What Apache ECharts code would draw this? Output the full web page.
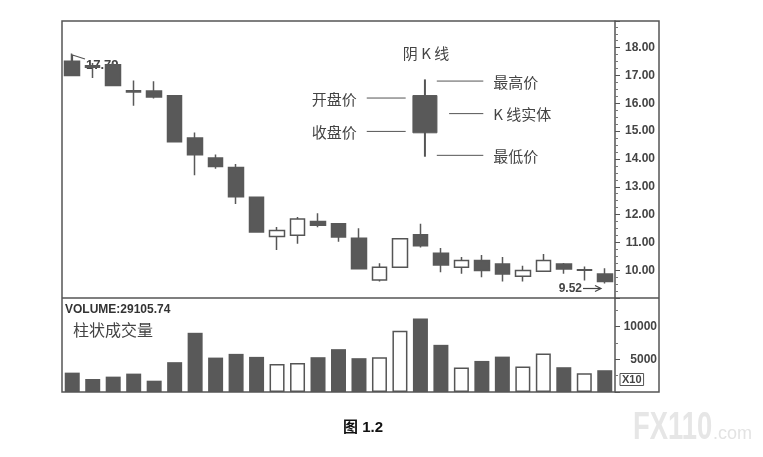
<!DOCTYPE html>
<html><head><meta charset="utf-8">
<script src="https://cdn.jsdelivr.net/npm/echarts@6/dist/echarts.min.js"></script>
<style>html,body{margin:0;padding:0;background:#fff}#c{width:763px;height:457px}</style>
</head><body><div id="c"></div>
<script>
// ---- data ----
const categories = ['1','2','3','4','5','6','7','8','9','10','11','12','13','14','15','16','17','18','19','20','21','22','23','24','25','26','27'];
const opens  = [17.51,17.35,17.39,16.45,16.44,16.27,14.75,14.03,13.69,12.62,11.21,11.26,11.75,11.67,11.15, 9.65,10.11,11.27,10.61,10.11,10.35,10.22, 9.78, 9.96,10.22,10.00, 9.86];
const closes = [17.00,17.30,16.64,16.41,16.23,14.62,14.15,13.73,12.64,11.37,11.43,11.84,11.62,11.19,10.05,10.11,11.13,10.88,10.19,10.35, 9.99, 9.86, 9.99,10.35,10.04,10.02, 9.59];
const lows   = [16.98,16.91,16.62,15.91,16.17,14.59,13.41,13.65,12.38,11.35,10.73,10.95,11.54,11.02,10.03, 9.59,10.09,10.82, 9.93, 9.87, 9.75, 9.59, 9.59, 9.94, 9.87, 9.63, 9.52];
const highs  = [17.79,17.45,17.45,16.82,16.79,16.30,14.95,14.16,13.82,12.64,11.55,11.91,12.05,11.69,11.51,10.25,11.15,11.67,10.80,10.47,10.55,10.47,10.16,10.58,10.26,10.13,10.07];
const volumes = [2960,1990,2350,2810,1730,4560,9050,5260,5830,5370,4290,4450,5320,6550,5170,5320,9360,11240,7210,3730,4750,5410,3880,5870,3790,2870,3330];
const priceTicks = [10,11,12,13,14,15,16,17,18];
const volumeTicks = [5000,10000];
// illustrative candle (阴 K 线): [x position, open, close, low, high]
const illusCandle = [17.72, 16.28, 14.94, 14.08, 16.86];
// annotation leader lines
const annoTexts  = ['开盘价','收盘价','最高价','K 线实体','最低价'];
const annoLevels = [16.19, 14.99, 16.80, 15.63, 14.13];
const annoX1     = [14.88, 14.88, 18.30, 18.90, 18.30];
const annoX2     = [16.78, 16.78, 20.57, 20.57, 20.57];
const annoSide   = ['left','left','right','right','right'];

// ---- chart ----
const DARK = '#595959', LINE = '#555';
const CJK = '"Noto Sans CJK SC", sans-serif';
const LAT = '"Liberation Sans", Arial, sans-serif';
const chart = echarts.init(document.getElementById('c'));

const hiddenCat = (gi) => ({type:'category', data:categories, gridIndex:gi, boundaryGap:true,
  axisLine:{show:false, onZero:false}, axisTick:{show:false}, axisLabel:{show:false}, splitLine:{show:false}});

const option = {
  animation:false,
  backgroundColor:'#fff',
  grid:[
    {left:62, right:148, top:21, height:277},
    {left:62, right:148, top:298, height:94}
  ],
  xAxis:[
    hiddenCat(0),
    {type:'value', gridIndex:0, min:0, max:27, show:false, axisLine:{onZero:false}},
    hiddenCat(1)
  ],
  yAxis:[
    {type:'value', gridIndex:0, position:'right', min:9, max:18.96, interval:1,
     axisLine:{show:true, onZero:false, lineStyle:{color:LINE, width:1.5}},
     axisTick:{show:true, inside:false, length:5, lineStyle:{color:LINE}},
     minorTick:{show:true, splitNumber:4, length:3, lineStyle:{color:'#777'}},
     splitLine:{show:false}, minorSplitLine:{show:false},
     axisLabel:{formatter:(v)=> priceTicks.indexOf(Math.round(v*100)/100) >= 0 ? Number(v).toFixed(2) : '',
       align:'right', margin:40, fontFamily:LAT, fontWeight:'bold', fontSize:12, color:'#444'}},
    {type:'value', gridIndex:1, position:'right', min:0, max:14370, interval:5000,
     axisLine:{show:true, onZero:false, lineStyle:{color:LINE, width:1.5}},
     axisTick:{show:true, inside:false, length:5, lineStyle:{color:LINE}},
     minorTick:{show:true, splitNumber:2, length:3, lineStyle:{color:'#777'}},
     splitLine:{show:false}, minorSplitLine:{show:false},
     axisLabel:{formatter:(v)=> volumeTicks.indexOf(v) >= 0 ? String(v) : '',
       align:'right', margin:42, fontFamily:LAT, fontWeight:'bold', fontSize:12, color:'#444'}}
  ],
  series:[
    {type:'candlestick', xAxisIndex:0, yAxisIndex:0, barWidth:15,
     data: categories.map((_, i) => [opens[i], closes[i], lows[i], highs[i]]),
     itemStyle:{color:'#fff', color0:DARK, borderColor:LINE, borderColor0:DARK, borderWidth:1.5}},
    {type:'bar', xAxisIndex:2, yAxisIndex:1, barWidth:15,
     data: volumes.map((v, i) => ({value:v, itemStyle: closes[i] >= opens[i]
        ? {color:'#fff', borderColor:LINE, borderWidth:1.5}
        : {color:DARK}}))},
    {type:'custom', xAxisIndex:1, yAxisIndex:0, silent:true,
     data:[illusCandle],
     renderItem:(params, api) => {
       const x = api.value(0);
       const o = api.coord([x, api.value(1)]);
       const c = api.coord([x, api.value(2)]);
       const l = api.coord([x, api.value(3)]);
       const h = api.coord([x, api.value(4)]);
       const w = 24;
       const children = [
         {type:'line', shape:{x1:h[0], y1:h[1], x2:l[0], y2:l[1]}, style:{stroke:LINE, lineWidth:2}},
         {type:'rect', shape:{x:o[0]-w/2, y:o[1], width:w, height:c[1]-o[1]}, style:{fill:DARK, stroke:DARK, lineWidth:1}}
       ];
       annoTexts.forEach((t, k) => {
         const p1 = api.coord([annoX1[k], annoLevels[k]]);
         const p2 = api.coord([annoX2[k], annoLevels[k]]);
         children.push({type:'line', shape:{x1:p1[0], y1:p1[1], x2:p2[0], y2:p2[1]}, style:{stroke:LINE, lineWidth:1}});
         const left = annoSide[k] === 'left';
         children.push({type:'text', x: left ? p1[0]-10 : p2[0]+10, y: p1[1]+1,
           style:{text:t, fill:'#444', font:'15px ' + CJK, align: left ? 'right':'left', verticalAlign:'middle',
                  textAlign: left ? 'right':'left', textVerticalAlign:'middle'}});
       });
       return {type:'group', children};
     }}
  ],
  graphic:[
    {type:'rect', silent:true, shape:{x:62, y:21, width:597, height:371}, style:{fill:'none', stroke:LINE, lineWidth:1.5}, z:100},
    {type:'line', silent:true, shape:{x1:62, y1:298, x2:659, y2:298}, style:{stroke:LINE, lineWidth:1.5}, z:100},
    {type:'text', silent:true, x:426, y:53, style:{text:'阴 K 线', font:'15px ' + CJK, fill:'#444', align:'center', verticalAlign:'middle'}},
    {type:'polyline', silent:true, shape:{points:[[72.5,61],[72.5,55],[85,59]]}, style:{stroke:'#555', lineWidth:1.2, fill:'none'}},
    {type:'text', silent:true, x:86, y:65, style:{text:'17.79', font:'bold 13px ' + LAT, fill:'#444', align:'left', verticalAlign:'middle'}},
    {type:'text', silent:true, x:582, y:288.5, style:{text:'9.52', font:'bold 12px ' + LAT, fill:'#444', align:'right', verticalAlign:'middle'}},
    {type:'line', silent:true, shape:{x1:583, y1:288.5, x2:600, y2:288.5}, style:{stroke:'#444', lineWidth:1.2}},
    {type:'polyline', silent:true, shape:{points:[[595,285.5],[601,288.5],[595,291.5]]}, style:{stroke:'#444', lineWidth:1.2, fill:'none'}},
    {type:'text', silent:true, x:65, y:309.5, style:{text:'VOLUME:29105.74', font:'bold 12px ' + LAT, fill:'#333', align:'left', verticalAlign:'middle'}},
    {type:'text', silent:true, x:73, y:330, style:{text:'柱状成交量', font:'16px ' + CJK, fill:'#444', align:'left', verticalAlign:'middle'}},
    {type:'text', silent:true, x:620, y:379.5, style:{text:'X10', font:'bold 11px ' + LAT, fill:'#444', align:'left', verticalAlign:'middle',
       borderColor:'#555', borderWidth:1, padding:[1,2,0,2]}},
    {type:'text', silent:true, x:343, y:428, style:{text:'图 1.2', font:'bold 15px ' + LAT + ', ' + CJK, fill:'#111', align:'left', verticalAlign:'middle'}},
    {type:'text', silent:true, x:633, y:429, scaleX:0.72, style:{text:'FX110', font:'bold 38px ' + LAT, fill:'#e6e6e6', align:'left', verticalAlign:'middle'}},
    {type:'text', silent:true, x:713, y:434, style:{text:'.com', font:'18px ' + LAT, fill:'#e3e3e3', align:'left', verticalAlign:'middle'}}
  ]
};
chart.setOption(option);
</script>
</body></html>
